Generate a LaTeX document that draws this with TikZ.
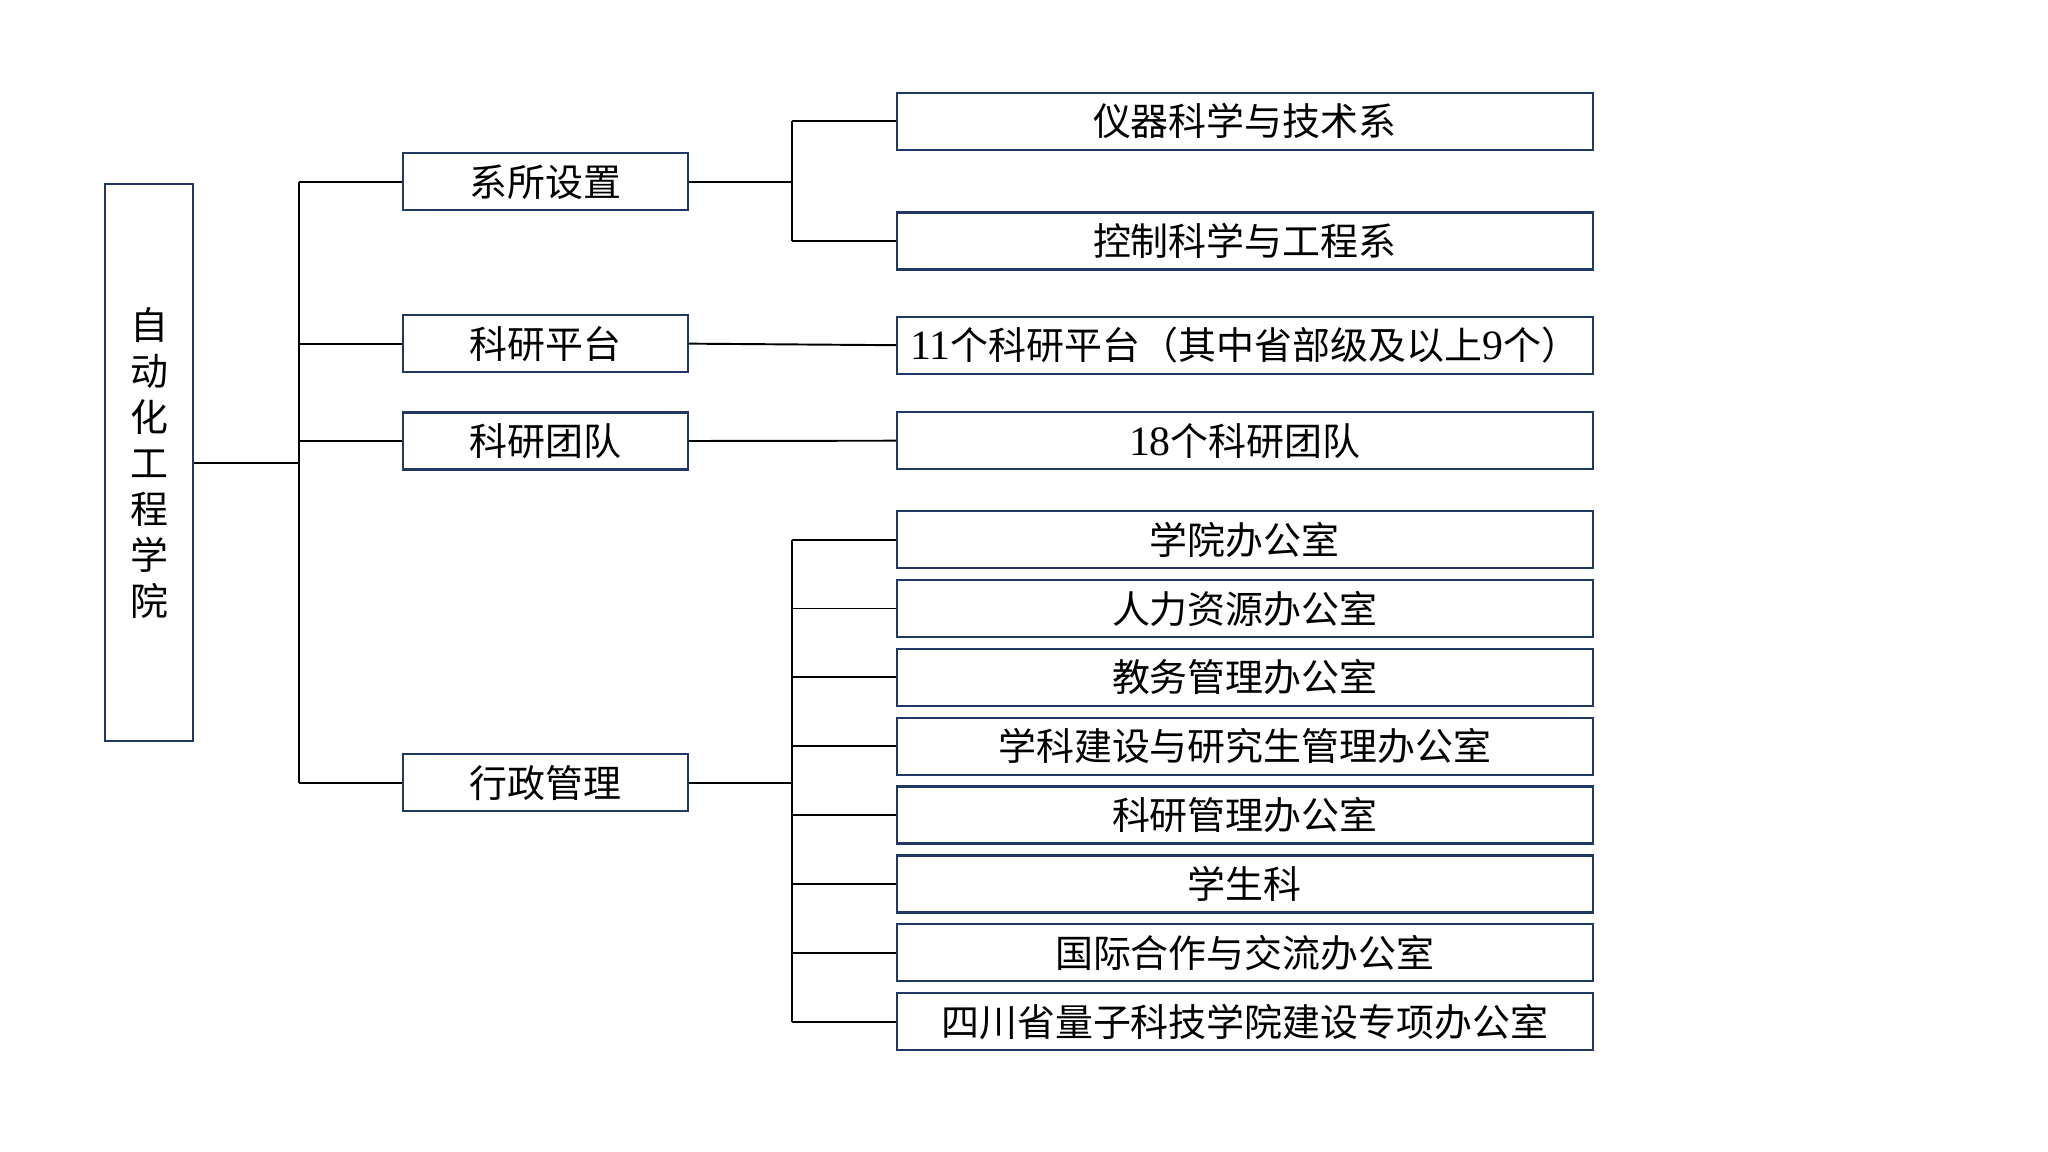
\documentclass[tikz,border=0pt]{standalone}
\usepackage{fontspec}
\setmainfont{Noto Sans CJK SC}
\newfontfamily\numfont{Liberation Serif}[Scale=1.1]
\usetikzlibrary{positioning}
\definecolor{boxnavy}{RGB}{31,56,100}
\begin{document}
\begin{tikzpicture}[
  font=\fontsize{10.8pt}{13.1pt}\selectfont,
  orgbox/.style={draw=boxnavy,line width=0.65pt,fill=white,inner sep=0pt,minimum height=0.57cm},
  unitbox/.style={orgbox,minimum width=2.847cm},
  deptbox/.style={orgbox,minimum width=6.957cm},
  link/.style={line width=0.55pt,black}]
\useasboundingbox[fill=white] (0cm,0cm) rectangle (20.48cm,-11.52cm);
% college
\node (college) at (1.49cm,-4.627cm) [orgbox,minimum width=0.886cm,minimum height=5.567cm,align=center] {自\\动\\化\\工\\程\\学\\院};
% second level
\node (depts) at (5.4535cm,-1.818cm) [unitbox] {系所设置};
\node (platform) at (5.4535cm,-3.4365cm) [unitbox] {科研平台};
\node (teams) at (5.4535cm,-4.41cm) [unitbox] {科研团队};
\node (admin) at (5.4535cm,-7.8285cm) [unitbox] {行政管理};
% third level
\node (instr) at (12.4485cm,-1.2115cm) [deptbox] {仪器科学与技术系};
\node (control) at (12.4485cm,-2.41cm) [deptbox] {控制科学与工程系};
\node (platforms) at (12.4485cm,-3.452cm) [deptbox] {{\numfont 11}个科研平台（其中省部级及以上{\numfont 9}个）};
\node (teamlist) at (12.4485cm,-4.407cm) [deptbox] {{\numfont 18}个科研团队};
\node (office) at (12.4485cm,-5.396cm) [deptbox] {学院办公室};
\node (hr) at (12.4485cm,-6.085cm) [deptbox] {人力资源办公室};
\node (teaching) at (12.4485cm,-6.773cm) [deptbox] {教务管理办公室};
\node (grad) at (12.4485cm,-7.462cm) [deptbox] {学科建设与研究生管理办公室};
\node (research) at (12.4485cm,-8.151cm) [deptbox] {科研管理办公室};
\node (students) at (12.4485cm,-8.840cm) [deptbox] {学生科};
\node (intl) at (12.4485cm,-9.528cm) [deptbox] {国际合作与交流办公室};
\node (quantum) at (12.4485cm,-10.217cm) [deptbox] {四川省量子科技学院建设专项办公室};
% connectors
\coordinate (busa) at (2.987cm,0cm);
\coordinate (busb) at (7.923cm,0cm);
\draw[link] (college.east) -- (college.east -| busa);
\draw[link] (busa |- depts.west) -- (busa |- admin.west);
\draw[link] (busa |- depts.west) -- (depts.west);
\draw[link] (busa |- platform.west) -- (platform.west);
\draw[link] (busa |- teams.west) -- (teams.west);
\draw[link] (busa |- admin.west) -- (admin.west);
\draw[link] (depts.east) -- (depts.east -| busb);
\draw[link] (busb |- instr.west) -- (busb |- control.west);
\draw[link] (busb |- instr.west) -- (instr.west);
\draw[link] (busb |- control.west) -- (control.west);
\draw[link] (platform.east) -- (platforms.west);
\draw[link] (teams.east) -- (teamlist.west);
\draw[link] (admin.east) -- (admin.east -| busb);
\draw[link] (busb |- office.west) -- (busb |- quantum.west);
\draw[link] (busb |- office.west) -- (office.west);
\draw[link] (busb |- hr.west) -- (hr.west);
\draw[link] (busb |- teaching.west) -- (teaching.west);
\draw[link] (busb |- grad.west) -- (grad.west);
\draw[link] (busb |- research.west) -- (research.west);
\draw[link] (busb |- students.west) -- (students.west);
\draw[link] (busb |- intl.west) -- (intl.west);
\draw[link] (busb |- quantum.west) -- (quantum.west);
\end{tikzpicture}
\end{document}
